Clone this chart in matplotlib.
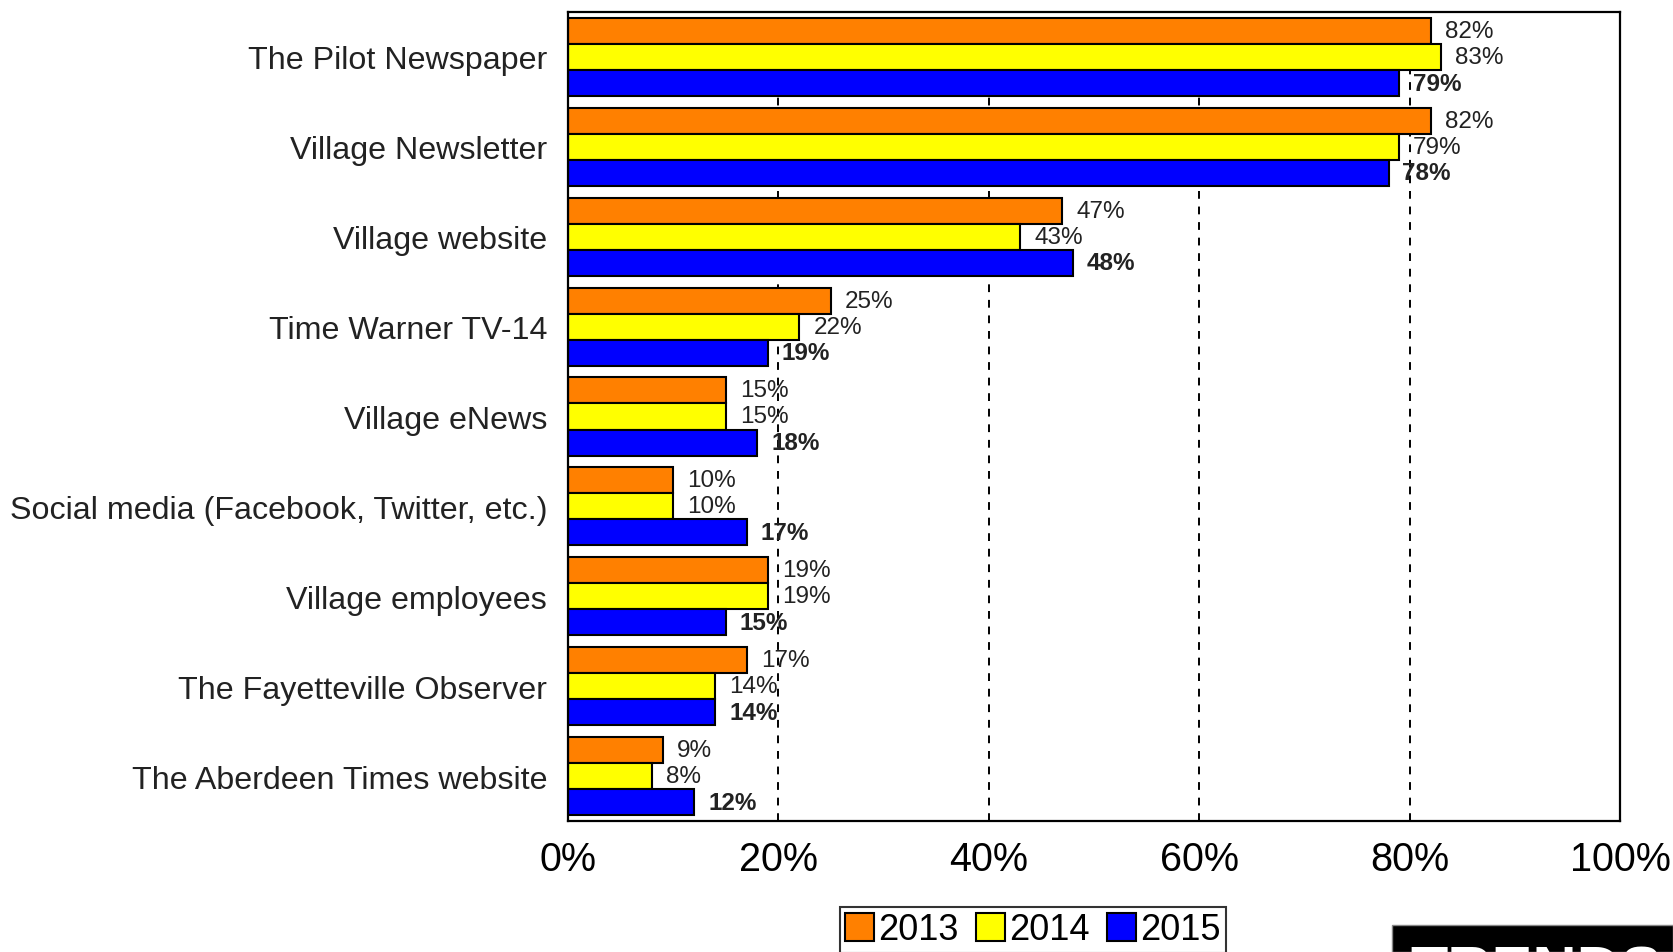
import numpy as np
import matplotlib.pyplot as plt
from matplotlib.patches import Rectangle
from matplotlib.ticker import FuncFormatter

categories = ['The Pilot Newspaper', 'Village Newsletter', 'Village website',
              'Time Warner TV-14', 'Village eNews',
              'Social media (Facebook, Twitter, etc.)', 'Village employees',
              'The Fayetteville Observer', 'The Aberdeen Times website']
v2013 = [82, 82, 47, 25, 15, 10, 19, 17, 9]
v2014 = [83, 79, 43, 22, 15, 10, 19, 14, 8]
v2015 = [79, 78, 48, 19, 18, 17, 15, 14, 12]
years = ['2013', '2014', '2015']
colors = ['#FF8000', '#FFFF00', '#0000FF']

plt.rcParams['font.family'] = ['Liberation Sans', 'DejaVu Sans']

fig = plt.figure(figsize=(16.73, 9.53), dpi=100)
ax = fig.add_axes([568 / 1673, 1 - 822 / 953, (1620 - 568) / 1673, (822 - 13) / 953])

y = np.arange(len(categories))
h = 0.29
series = [v2013, v2014, v2015]
for i, (vals, c, yr) in enumerate(zip(series, colors, years)):
    pos = y + (i - 1) * h
    ax.barh(pos, vals, height=h, color=c, edgecolor='black', linewidth=1.5,
            label=yr, zorder=2)
    for p, v in zip(pos, vals):
        ax.annotate(f'{v}%', (v, p), xytext=(10, 0), textcoords='offset points',
                    va='center', ha='left', fontsize=17.5, color='#222222',
                    fontweight='bold' if i == 2 else 'normal', zorder=3)

ax.set_xlim(0, 100)
ax.set_ylim(len(categories) - 0.5, -0.5)
ax.set_xticks([0, 20, 40, 60, 80, 100])
ax.xaxis.set_major_formatter(FuncFormatter(lambda v, _: f'{v:.0f}%'))
ax.set_yticks(y)
ax.set_yticklabels(categories, fontsize=23.2, color='#222222')
ax.tick_params(axis='y', length=0, pad=15)
ax.tick_params(axis='x', length=0, pad=14, labelsize=28.5)
ax.xaxis.grid(True, color='black', linestyle=(0, (4, 4)), linewidth=1.4)
ax.set_axisbelow(True)
for s in ax.spines.values():
    s.set_linewidth(1.6)

leg = ax.legend(loc='upper left', bbox_to_anchor=(840 / 1673, 1 - 908 / 953),
                bbox_transform=fig.transFigure, ncol=3, frameon=True,
                fancybox=False, edgecolor='black', handlelength=0.8,
                handleheight=0.8, handletextpad=0.1, columnspacing=0.5,
                borderpad=0.15, borderaxespad=0, prop={'size': 26})
leg.get_frame().set_linewidth(1.5)

fig.patches.append(Rectangle((1392 / 1673, 0), 1 - 1392 / 1673, 1 - 926 / 953,
                             transform=fig.transFigure, facecolor='black',
                             edgecolor='#888888', zorder=5))
fig.text(1410 / 1673, 1 - 946 / 953, 'TRENDS', color='white', fontsize=44,
         fontweight='bold', va='top', ha='left', zorder=6)

fig.savefig('out.png', dpi=100)
